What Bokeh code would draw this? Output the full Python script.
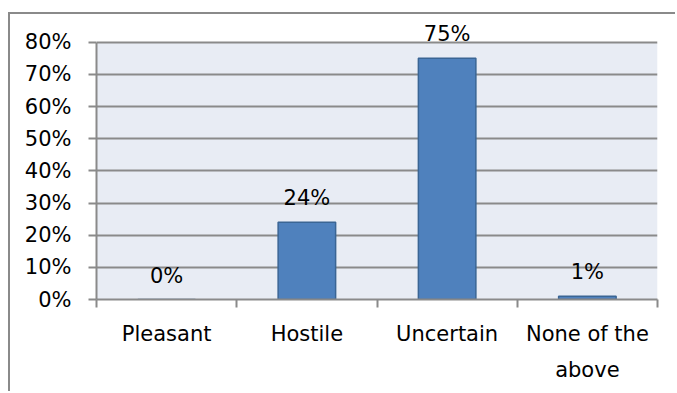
from bokeh.plotting import figure
from bokeh.models import ColumnDataSource, FixedTicker, NumeralTickFormatter, Range1d, Label, BoxAnnotation
from bokeh.embed import file_html
from bokeh.resources import INLINE

categories = ["Pleasant", "Hostile", "Uncertain", "None of the\nabove"]
values = [0.0, 0.24, 0.75, 0.01]
value_labels = ["0%", "24%", "75%", "1%"]
y_ticks = [0.0, 0.1, 0.2, 0.3, 0.4, 0.5, 0.6, 0.7, 0.8]

FONT = "DejaVu Sans"
GRAY = "#8a8a8a"
FS = "21px"

xs = [i + 0.5 for i in range(len(categories))]
source = ColumnDataSource(dict(x=xs, top=values, label=value_labels))

y_axis_max = y_ticks[-1]
p = figure(width=667, height=379, output_backend="svg", toolbar_location=None,
           x_range=Range1d(0, len(categories)), y_range=Range1d(0, y_axis_max * 1.1),
           min_border_left=86, min_border_right=20, min_border_top=2, min_border_bottom=94)
p.margin = (12, 0, 0, 8)
p.styles = {"border-left": "2px solid #8a8a8a", "border-top": "2px solid #8a8a8a"}
p.background_fill_color = "white"
p.border_fill_color = "white"
p.outline_line_color = None

# plot-area panel limited to the axis range
p.add_layout(BoxAnnotation(left=0, right=len(categories), bottom=0, top=y_axis_max,
                           fill_color="#e8ecf4", fill_alpha=1, line_color=None,
                           level="image"))

p.vbar(x="x", top="top", width=0.41, bottom=0, source=source,
       fill_color="#4f81bd", line_color="#3a6594", line_width=1.5)
for x, top, lab in zip(xs, values, value_labels):
    p.add_layout(Label(x=x, y=top, text=lab, y_offset=24,
                       text_align="center", text_baseline="middle",
                       text_font=FONT, text_font_size=FS, text_color="black"))

# y axis
p.yaxis.ticker = FixedTicker(ticks=y_ticks)
p.yaxis.bounds = (0, y_axis_max)
p.yaxis.formatter = NumeralTickFormatter(format="0%")
p.yaxis.major_label_text_font = FONT
p.yaxis.major_label_text_font_size = FS
p.yaxis.major_label_text_color = "black"
p.yaxis.major_tick_out = 8
p.yaxis.major_tick_in = 0
p.yaxis.minor_tick_line_color = None
p.yaxis.major_tick_line_color = GRAY
p.yaxis.major_tick_line_width = 2
p.yaxis.axis_line_color = GRAY
p.yaxis.axis_line_width = 2
p.yaxis.major_label_standoff = 17

# x axis
p.xaxis.ticker = FixedTicker(ticks=xs, minor_ticks=list(range(len(categories) + 1)))
p.xaxis.major_label_overrides = {x: c for x, c in zip(xs, categories)}
p.xaxis.major_label_text_font = FONT
p.xaxis.major_label_text_font_size = FS
p.xaxis.major_label_text_color = "black"
p.xaxis.major_label_text_line_height = 1.5
p.xaxis.major_tick_line_color = None
p.xaxis.minor_tick_out = 8
p.xaxis.minor_tick_in = 0
p.xaxis.minor_tick_line_color = GRAY
p.xaxis.minor_tick_line_width = 2
p.xaxis.axis_line_color = GRAY
p.xaxis.axis_line_width = 2
p.xaxis.major_label_standoff = 14

p.xgrid.grid_line_color = None
p.ygrid.grid_line_color = GRAY
p.ygrid.grid_line_width = 2

open("out.html", "w").write(file_html(p, INLINE))
